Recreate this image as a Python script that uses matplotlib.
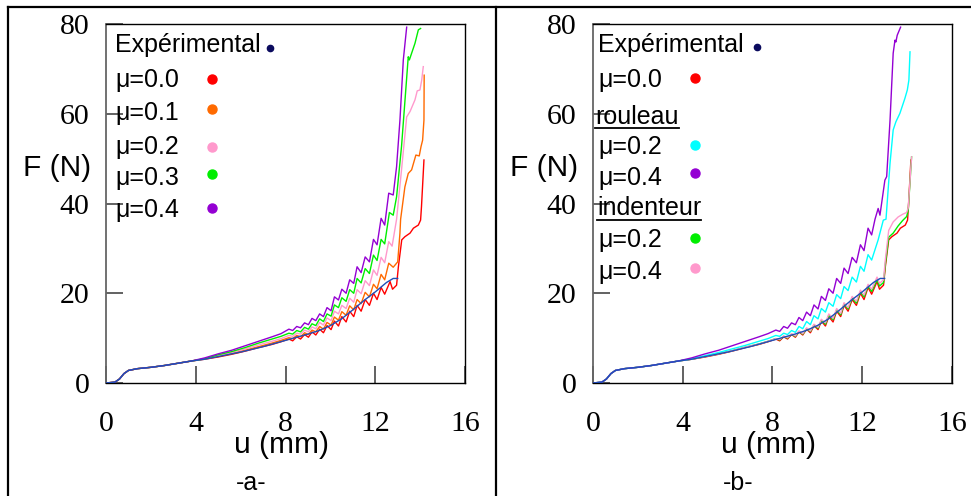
import matplotlib.pyplot as plt
from matplotlib.lines import Line2D

plt.rcParams['font.family'] = ['Liberation Sans', 'DejaVu Sans']

# common beginning of all curves (u in mm, F in N)
u_start = [0, 0.4, 0.6, 0.8, 1.0, 1.4, 2.0, 2.6, 3.2, 3.8]
f_start = [0, 0.2, 0.9, 2.1, 2.8, 3.2, 3.5, 3.9, 4.4, 4.9]

# experimental curve
u_exp = u_start + [4.4, 5.0, 6.0, 7.0, 8.0, 9.0, 9.5, 10.0, 10.5, 11.0, 11.5, 12.0, 12.5, 12.8, 13.0]
f_exp = f_start + [5.3, 5.9, 6.9, 8.1, 9.5, 10.9, 11.7, 12.8, 14.3, 16.3, 18.4, 20.3, 22.4, 23.3, 23.3]

# wiggle grid (peak / trough positions)
u_wig = [4.4, 5.0, 5.6, 6.2, 6.8, 7.4, 7.8,
         8.15, 8.32, 8.5, 8.67, 8.85, 9.02, 9.18, 9.35, 9.52, 9.69, 9.85, 10.03,
         10.18, 10.36, 10.51, 10.7, 10.86, 11.04, 11.19, 11.37, 11.55, 11.74,
         11.92, 12.08, 12.26, 12.42]

# panel a
u_a00 = u_start + u_wig + [12.66, 12.77, 12.95, 13.03, 13.18, 13.32, 13.55, 13.7, 13.92, 14.02, 14.06, 14.17]
f_a00 = f_start + [5.3, 5.8, 6.4, 7.1, 7.9, 8.6, 9.2,
                   9.8, 9.4, 10.3, 9.8, 10.8, 10.2, 11.4, 10.7, 12.0, 11.2, 12.8, 11.9,
                   13.8, 12.7, 14.8, 13.6, 16.0, 14.8, 17.3, 16.0, 18.6, 17.3,
                   20.0, 18.6, 21.3, 19.8] + [22.6, 20.9, 21.8, 25.9, 31.9, 32.6, 33.4, 34.5, 35.2, 36.3, 39.3, 49.7]

u_a01 = u_start + u_wig + [12.6, 12.8, 13.0, 13.1, 13.13, 13.32, 13.47, 13.62, 13.81, 13.96, 14.04, 14.11, 14.17, 14.18]
f_a01 = f_start + [5.4, 6.0, 6.6, 7.3, 8.1, 8.9, 9.5,
                   10.1, 9.9, 10.6, 10.3, 11.2, 10.8, 11.8, 11.4, 12.6, 12.0, 13.5, 12.9,
                   14.7, 14.0, 15.9, 15.1, 17.2, 16.3, 18.6, 17.7, 20.2, 19.2,
                   22.0, 21.0, 24.2, 23.0] + [26.7, 25.8, 27.0, 33.4, 36.5, 43.7, 46.7, 47.5, 50.8, 50.6, 52.7, 54.1, 58.6, 68.6]

u_a02 = u_start + u_wig + [12.6, 12.75, 12.95, 13.17, 13.4, 13.55, 13.77, 13.87, 13.99, 14.07, 14.14]
f_a02 = f_start + [5.4, 6.1, 6.8, 7.6, 8.5, 9.3, 9.9,
                   10.6, 10.4, 11.1, 10.9, 11.8, 11.4, 12.5, 12.1, 13.5, 12.9, 14.5, 13.9,
                   16.0, 15.4, 17.3, 16.6, 18.9, 18.0, 20.8, 19.9, 22.8, 21.7,
                   25.2, 24.0, 28.0, 26.8] + [31.5, 30.5, 36.5, 47.5, 59.3, 60.5, 63.1, 65.1, 65.3, 67.5, 70.5]

u_a03 = u_start + u_wig + [12.63, 12.8, 12.95, 13.17, 13.37, 13.47, 13.52, 13.77, 13.92, 14.02]
f_a03 = f_start + [5.4, 6.3, 7.0, 7.9, 8.9, 9.8, 10.4,
                   11.1, 10.9, 11.7, 11.4, 12.4, 12.0, 13.2, 12.8, 14.3, 13.7, 15.4, 14.9,
                   17.4, 16.8, 19.0, 18.2, 20.8, 20.0, 23.3, 22.3, 25.5, 24.4,
                   28.5, 27.3, 32.0, 31.0] + [38.0, 37.4, 41.5, 52.7, 66.0, 72.7, 72.0, 75.7, 78.7, 79.0]

u_a04 = u_start + u_wig + [12.6, 12.8, 12.95, 13.1, 13.25, 13.4]
f_a04 = f_start + [5.6, 6.5, 7.3, 8.3, 9.3, 10.3, 11.0,
                   12.0, 11.7, 12.6, 12.3, 13.4, 13.0, 14.4, 13.9, 15.4, 14.8, 16.8, 16.1,
                   19.2, 18.5, 20.9, 20.0, 23.0, 22.2, 25.9, 24.6, 28.1, 27.0,
                   32.0, 30.8, 36.7, 35.2] + [42.3, 41.9, 48.2, 58.6, 72.0, 79.3]

# panel b
u_rou02 = u_start + u_wig + [12.71, 12.94, 13.06, 13.24, 13.38, 13.5, 13.68, 13.9, 14.01, 14.08, 14.13]
f_rou02 = f_start + [5.4, 6.1, 6.8, 7.6, 8.4, 9.3, 9.9,
                     10.6, 10.4, 11.1, 10.8, 11.7, 11.3, 12.6, 12.1, 13.7, 13.0, 15.0, 14.3,
                     16.6, 15.8, 17.9, 17.1, 19.7, 18.8, 21.5, 20.6, 23.6, 22.5,
                     26.0, 24.9, 28.6, 27.4] + [31.9, 36.3, 36.5, 49.0, 56.4, 58.2, 60.1, 63.4, 65.3, 67.5, 73.8]

u_rou04 = u_start + u_wig + [12.57, 12.71, 12.79, 13.01, 13.09, 13.24, 13.38, 13.46, 13.5, 13.56, 13.71]
f_rou04 = f_start + [5.6, 6.5, 7.3, 8.3, 9.3, 10.3, 11.0,
                     11.8, 11.5, 12.6, 12.2, 13.4, 13.0, 14.6, 13.9, 15.8, 15.0, 17.4, 16.5,
                     19.3, 18.4, 21.0, 20.0, 23.3, 22.2, 25.6, 24.4, 28.0, 26.8,
                     30.8, 29.5, 34.5, 33.0] + [36.5, 38.9, 37.4, 45.2, 46.0, 58.6, 73.5, 76.4, 76.0, 77.5, 79.3]

u_ind02 = u_start + u_wig + [12.66, 12.77, 12.95, 13.03, 13.18, 13.38, 13.6, 13.8, 13.98, 14.05, 14.2]
f_ind02 = f_start + [5.3, 5.9, 6.5, 7.2, 8.0, 8.7, 9.3,
                     9.9, 9.6, 10.4, 10.0, 10.9, 10.4, 11.5, 10.9, 12.1, 11.5, 12.9, 12.2,
                     14.0, 13.1, 15.1, 14.1, 16.3, 15.2, 17.6, 16.5, 18.9, 17.8,
                     20.3, 19.2, 21.6, 20.4] + [23.0, 21.6, 22.4, 26.5, 32.5, 33.4, 35.0, 36.2, 37.1, 38.5, 50.4]

u_ind04 = u_start + u_wig + [12.66, 12.77, 12.95, 13.03, 13.18, 13.38, 13.6, 13.8, 13.98, 14.05, 14.2]
f_ind04 = f_start + [5.3, 5.9, 6.5, 7.2, 8.0, 8.7, 9.3,
                     9.9, 9.7, 10.5, 10.1, 11.0, 10.5, 11.6, 11.0, 12.3, 11.6, 13.1, 12.4,
                     14.2, 13.4, 15.4, 14.4, 16.6, 15.5, 17.9, 16.8, 19.3, 18.2,
                     20.7, 19.6, 22.0, 20.9] + [23.6, 22.2, 23.0, 27.5, 34.0, 35.9, 37.0, 37.6, 38.0, 39.0, 50.4]

x_ticks = [0, 4, 8, 12, 16]
y_ticks = [0, 20, 40, 60, 80]

c_exp = '#1f4fb8'
c_exp_dot = '#0b0b5e'
c_red = '#ff0000'
c_orange = '#ff6a00'
c_pink = '#ff99cc'
c_green = '#00ee00'
c_purple = '#9400d3'
c_cyan = '#00ffff'

fig = plt.figure(figsize=(9.71, 4.96), dpi=100)
ax_a = fig.add_axes([0.1092, 0.2278, 0.3697, 0.7238])
ax_b = fig.add_axes([0.6107, 0.2278, 0.3697, 0.7238])


def style_axes(ax, letter):
    ax.set_xlim(0, 16)
    ax.set_ylim(0, 80)
    ax.set_xticks(x_ticks)
    ax.set_yticks(y_ticks)
    ax.tick_params(direction='in', length=12, width=1.3, color='#555555',
                   labelsize=21.5, pad=12)
    ax.tick_params(axis='x', pad=20)
    for lab in ax.get_xticklabels() + ax.get_yticklabels():
        lab.set_fontfamily('Liberation Serif')
    for side in ['top', 'right', 'bottom']:
        ax.spines[side].set_linewidth(1.0)
        ax.spines[side].set_color('black')
    ax.spines['left'].set_linewidth(1.3)
    ax.spines['left'].set_color('#666666')
    ax.text(-0.137, 0.599, 'F (N)', transform=ax.transAxes, fontsize=21.5,
            ha='center', va='center')
    ax.text(0.49, -0.172, 'u (mm)', transform=ax.transAxes, fontsize=21.5,
            ha='center', va='center')
    ax.text(0.405, -0.278, letter, transform=ax.transAxes, fontsize=18,
            ha='center', va='center')


def legend_row(ax, x, y, label, mx, my, color, ms=6.5):
    ax.text(x, y, label, transform=ax.transAxes, fontsize=18, ha='left', va='center')
    ax.plot([mx], [my], 'o', color=color, ms=ms, transform=ax.transAxes, clip_on=False)


# panel a
ax_a.plot(u_exp, f_exp, color=c_exp, lw=1.0, zorder=5)
ax_a.plot(u_a00, f_a00, color=c_red, lw=1.0)
ax_a.plot(u_a01, f_a01, color=c_orange, lw=1.0)
ax_a.plot(u_a02, f_a02, color=c_pink, lw=1.0)
ax_a.plot(u_a03, f_a03, color=c_green, lw=1.0)
ax_a.plot(u_a04, f_a04, color=c_purple, lw=1.0)
style_axes(ax_a, '-a-')
legend_row(ax_a, 0.025, 0.9415, 'Expérimental', 0.457, 0.933, c_exp_dot, ms=4.5)
legend_row(ax_a, 0.025, 0.844, 'μ=0.0', 0.295, 0.847, c_red)
legend_row(ax_a, 0.025, 0.752, 'μ=0.1', 0.295, 0.763, c_orange)
legend_row(ax_a, 0.025, 0.657, 'μ=0.2', 0.295, 0.657, c_pink)
legend_row(ax_a, 0.025, 0.571, 'μ=0.3', 0.295, 0.582, c_green)
legend_row(ax_a, 0.025, 0.482, 'μ=0.4', 0.295, 0.487, c_purple)

# panel b
ax_b.plot(u_exp, f_exp, color=c_exp, lw=1.0, zorder=5)
ax_b.plot(u_a00, f_a00, color=c_red, lw=1.0)
ax_b.plot(u_ind02, f_ind02, color=c_green, lw=1.0)
ax_b.plot(u_ind04, f_ind04, color=c_pink, lw=1.0)
ax_b.plot(u_rou02, f_rou02, color=c_cyan, lw=1.0)
ax_b.plot(u_rou04, f_rou04, color=c_purple, lw=1.0)
style_axes(ax_b, '-b-')
legend_row(ax_b, 0.014, 0.9415, 'Expérimental', 0.456, 0.936, c_exp_dot, ms=4.5)
legend_row(ax_b, 0.014, 0.844, 'μ=0.0', 0.284, 0.85, c_red)
ax_b.text(0.006, 0.741, 'rouleau', transform=ax_b.transAxes, fontsize=18, ha='left', va='center')
ax_b.plot([0.006, 0.240], [0.710, 0.710], color='black', lw=1.3, transform=ax_b.transAxes, clip_on=False)
legend_row(ax_b, 0.014, 0.657, 'μ=0.2', 0.284, 0.663, c_cyan)
legend_row(ax_b, 0.014, 0.571, 'μ=0.4', 0.284, 0.585, c_purple)
ax_b.text(0.011, 0.487, 'indenteur', transform=ax_b.transAxes, fontsize=18, ha='left', va='center')
ax_b.plot([0.011, 0.301], [0.454, 0.454], color='black', lw=1.3, transform=ax_b.transAxes, clip_on=False)
legend_row(ax_b, 0.014, 0.398, 'μ=0.2', 0.284, 0.404, c_green)
legend_row(ax_b, 0.014, 0.309, 'μ=0.4', 0.284, 0.32, c_pink)

# outer frame of the figure
fig.add_artist(Line2D([0.008, 1.0], [0.986, 0.986], transform=fig.transFigure, color='black', lw=1.6))
fig.add_artist(Line2D([0.0085, 0.0085], [0.0, 0.986], transform=fig.transFigure, color='black', lw=1.6))
fig.add_artist(Line2D([0.5103, 0.5103], [0.0, 0.986], transform=fig.transFigure, color='black', lw=1.6))

fig.savefig('out.png', dpi=100)
